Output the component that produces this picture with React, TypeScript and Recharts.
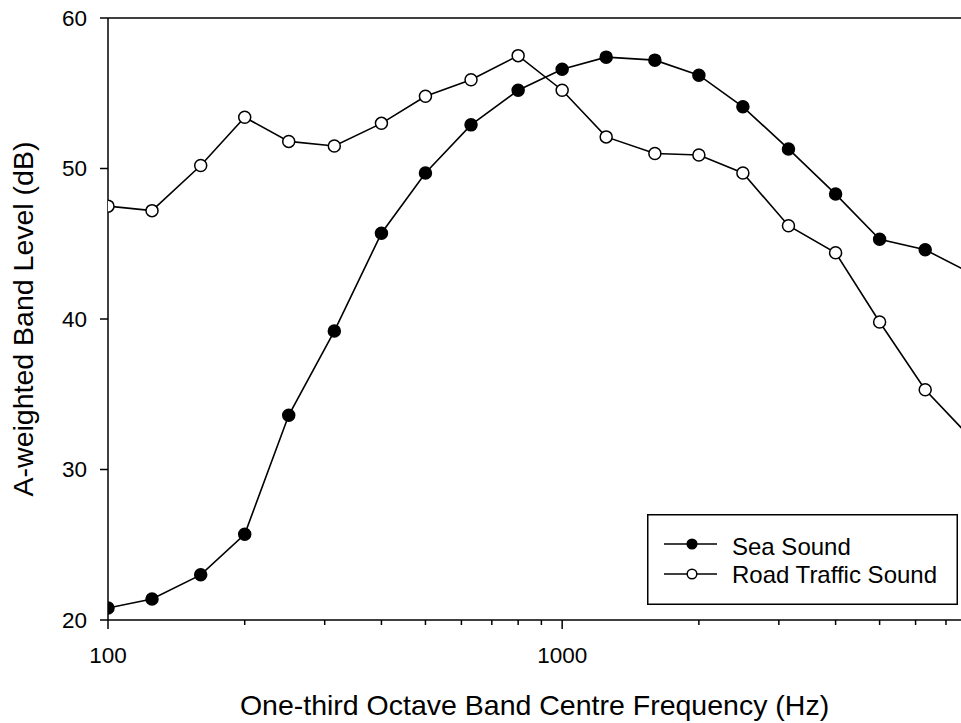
import React from "react"
import { LineChart, Line, XAxis, YAxis, ReferenceLine, Legend } from "recharts"

// one-third octave band centre frequencies (Hz)
const FREQS = [100, 125, 160, 200, 250, 315, 400, 500, 630, 800, 1000, 1250, 1600, 2000, 2500, 3150, 4000, 5000, 6300, 8000]
// A-weighted band levels (dB)
const SEA = [20.8, 21.4, 23.0, 25.7, 33.6, 39.2, 45.7, 49.7, 52.9, 55.2, 56.6, 57.4, 57.2, 56.2, 54.1, 51.3, 48.3, 45.3, 44.6, 43.0]
const ROAD = [47.5, 47.2, 50.2, 53.4, 51.8, 51.5, 53.0, 54.8, 55.9, 57.5, 55.2, 52.1, 51.0, 50.9, 49.7, 46.2, 44.4, 39.8, 35.3, 32.0]

const X_MAJOR = [100, 1000]
const X_MINOR = [200, 300, 400, 500, 600, 700, 800, 900, 2000, 3000, 4000, 5000, 6000, 7000]
const Y_TICKS = [20, 30, 40, 50, 60]

const data = FREQS.map((f, i) => ({ freq: f, sea: SEA[i], road: ROAD[i] }))

const FONT = '"Liberation Sans", Arial, Helvetica, sans-serif'

const FreqTick = (props: any) => {
  const { x, y, payload } = props
  const major = X_MAJOR.includes(payload.value)
  return (
    <g>
      <line x1={x} x2={x} y1={y} y2={y + (major ? 9 : 5)} stroke="#000" strokeWidth={1.5} />
      {major && (
        <text x={x} y={y + 43} textAnchor="middle" fontSize={22.5} fill="#000">
          {payload.value}
        </text>
      )}
    </g>
  )
}

const LegendBox = () => {
  const rows = [
    { name: "Sea Sound", fill: "#000", cy: 30, ty: 40.5 },
    { name: "Road Traffic Sound", fill: "#fff", cy: 60, ty: 68.5 },
  ]
  return (
    <svg width={311} height={91} style={{ display: "block" }}>
      <rect x={0.75} y={0.75} width={309.5} height={89.5} fill="#fff" stroke="#000" strokeWidth={1.5} />
      {rows.map((r) => (
        <g key={r.name}>
          <line x1={17} x2={70} y1={r.cy} y2={r.cy} stroke="#000" strokeWidth={1.6} />
          <circle cx={45} cy={r.cy} r={4.8} fill={r.fill} stroke="#000" strokeWidth={1.5} />
          <text x={85} y={r.ty} fontSize={24} fill="#000">
            {r.name}
          </text>
        </g>
      ))}
    </svg>
  )
}

export default function App() {
  return (
    <div style={{ position: "absolute", left: 0, top: 0, width: 961, height: 723, background: "#fff", fontFamily: FONT }}>
      <LineChart width={961} height={723} data={data} margin={{ top: 18, right: 0, left: 8, bottom: 0 }}>
        <XAxis
          dataKey="freq"
          type="number"
          scale="log"
          domain={[100, 7554]}
          allowDataOverflow
          ticks={[...X_MAJOR, ...X_MINOR].sort((a, b) => a - b)}
          interval={0}
          tick={<FreqTick />}
          tickLine={false}
          tickSize={0}
          tickMargin={0}
          height={103}
          axisLine={{ stroke: "#000", strokeWidth: 1.5 }}
          label={{
            value: "One-third Octave Band Centre Frequency (Hz)",
            position: "insideBottom",
            offset: 8,
            style: { fontSize: 28.5, fill: "#000" },
          }}
        />
        <YAxis
          type="number"
          domain={[20, 60]}
          ticks={Y_TICKS}
          interval={0}
          width={100}
          tickSize={8}
          tickMargin={13}
          tick={{ fill: "#000", fontSize: 22.5 }}
          tickLine={{ stroke: "#000", strokeWidth: 1.5 }}
          axisLine={{ stroke: "#000", strokeWidth: 1.5 }}
          label={{
            value: "A-weighted Band Level (dB)",
            angle: -90,
            position: "insideLeft",
            offset: 15,
            style: { textAnchor: "middle", fontSize: 28.5, fill: "#000" },
          }}
        />
        <ReferenceLine y={60} stroke="#000" strokeWidth={1.5} />
        <Legend
          layout="vertical"
          align="center"
          verticalAlign="middle"
          content={() => <LegendBox />}
          wrapperStyle={{ left: 647, top: 514, width: 311, height: 91 }}
        />
        <Line
          type="linear"
          dataKey="sea"
          name="Sea Sound"
          stroke="#000"
          strokeWidth={1.6}
          dot={{ r: 6, fill: "#000", stroke: "#000", strokeWidth: 1.5 }}
          activeDot={false}
          isAnimationActive={false}
        />
        <Line
          type="linear"
          dataKey="road"
          name="Road Traffic Sound"
          stroke="#000"
          strokeWidth={1.6}
          dot={{ r: 6, fill: "#fff", stroke: "#000", strokeWidth: 1.5 }}
          activeDot={false}
          isAnimationActive={false}
        />
      </LineChart>
    </div>
  )
}
